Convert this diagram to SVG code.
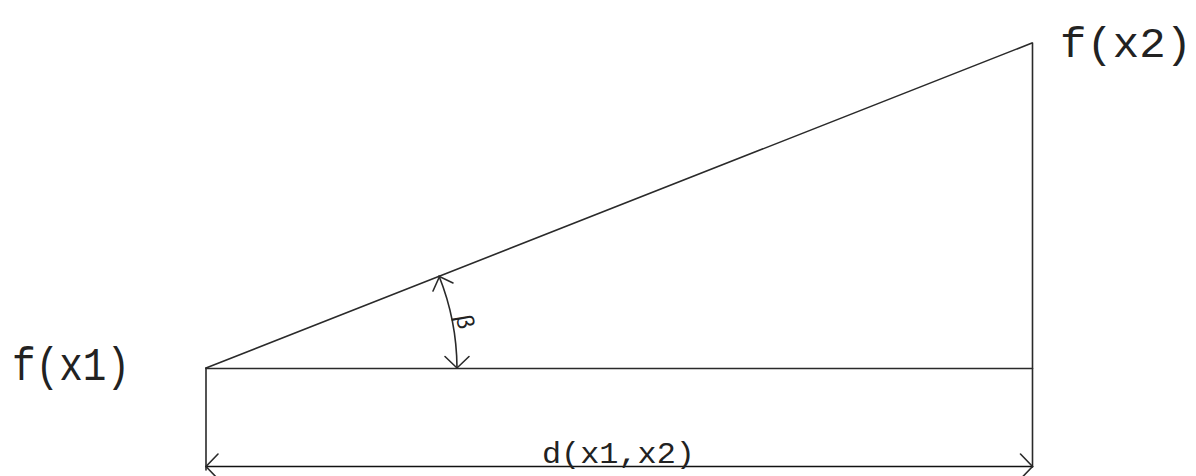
<svg xmlns="http://www.w3.org/2000/svg" width="1196" height="476" viewBox="0 0 1196 476">
<style>
.ln{stroke:#2a2a2a;stroke-width:1.6;fill:none;stroke-linecap:round}
.t{font-family:"Liberation Mono","DejaVu Sans Mono",monospace;fill:#222}
</style>
<rect width="1196" height="476" fill="#ffffff"/>
<g id="shape">
<line class="ln" x1="206" y1="368" x2="1032" y2="43"/>
<line class="ln" x1="206" y1="368.5" x2="1032.5" y2="368.5"/>
<line class="ln" x1="1032.5" y1="43" x2="1032.5" y2="467"/>
<line class="ln" x1="206" y1="368" x2="206" y2="470"/>
</g>
<g id="dimension">
<line class="ln" x1="206" y1="466.5" x2="1032.5" y2="466.5" style="stroke:#111"/>
<polyline class="ln" points="218,454 206,466.5 218,479"/>
<polyline class="ln" points="1020.5,454 1032.5,466.5 1020.5,479"/>
</g>
<g id="angle">
<path class="ln" d="M439,276 A251,251 0 0 1 457,368"/>
<polyline class="ln" points="433,291 439.5,276.5 453,283"/>
<polyline class="ln" points="445,356.5 457,368 469,356.5"/>
</g>
<g id="labels">
<text class="t" x="12" y="380" font-size="46" textLength="118" lengthAdjust="spacingAndGlyphs">f(x1)</text>
<text class="t" x="1060" y="57" font-size="43" textLength="132" lengthAdjust="spacingAndGlyphs">f(x2)</text>
<text class="t" x="542" y="463" font-size="29" textLength="153" lengthAdjust="spacingAndGlyphs">d(x1,x2)</text>
<text class="t" font-size="24" transform="translate(456,316) rotate(80)">β</text>
</g>
</svg>
